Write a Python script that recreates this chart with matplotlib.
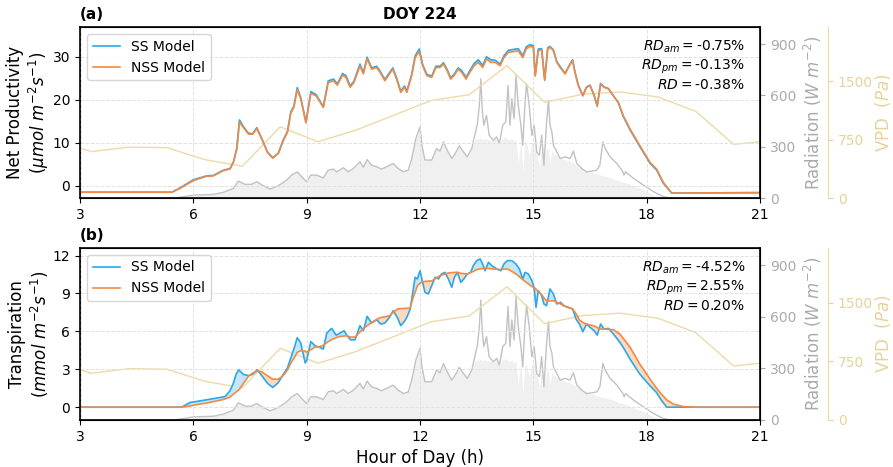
import numpy as np
import matplotlib
matplotlib.use('Agg')
import matplotlib.pyplot as plt

# ---------------- data ----------------
vpd_hours = [2.3, 3.3, 4.3, 5.3, 6.3, 7.3, 8.3, 9.3, 10.3, 11.3, 12.3, 13.3, 14.3,
             15.3, 16.3, 17.3, 18.3, 19.3, 20.3, 21.3]
vpd = [747, 597, 655, 648, 494, 409, 916, 724, 873, 1065, 1256, 1329, 1704,
       1231, 1335, 1365, 1300, 1116, 690, 740]

rad_hours = [3.0, 5.5, 6.0, 6.53, 6.79, 7.06, 7.19, 7.37, 7.54, 7.68,
             7.85, 8.03, 8.25, 8.47, 8.6, 8.75, 8.87, 9.0, 9.11, 9.26,
             9.44, 9.57, 9.71, 9.79, 9.97, 10.1, 10.24, 10.41, 10.5, 10.6,
             10.72, 10.85, 10.98, 11.12, 11.29, 11.42, 11.56, 11.69, 11.78, 11.89,
             12.0, 12.05, 12.13, 12.31, 12.44, 12.53, 12.62, 12.72, 12.84, 12.93,
             13.04, 13.15, 13.25, 13.37, 13.46, 13.52, 13.57, 13.61, 13.65, 13.69,
             13.76, 13.83, 13.94, 14.03, 14.1, 14.19, 14.27, 14.33, 14.38, 14.43,
             14.49, 14.54, 14.6, 14.67, 14.72, 14.78, 14.82, 14.89, 14.96, 15.02,
             15.09, 15.16, 15.22, 15.28, 15.35, 15.4, 15.44, 15.49, 15.53, 15.62,
             15.71, 15.84, 15.97, 16.06, 16.15, 16.28, 16.41, 16.54, 16.68, 16.76,
             16.84, 16.9, 17.03, 17.21, 17.36, 17.4, 17.44, 17.65, 17.91, 18.18,
             18.44, 18.62, 21.0]
rad = [0, 0, 17, 21, 33, 56, 99, 80, 80, 95,
       72, 52, 72, 105, 134, 153, 124, 95, 134, 134,
       118, 163, 169, 153, 177, 153, 173, 212, 180, 225,
       192, 183, 169, 183, 202, 173, 153, 163, 231, 348,
       416, 309, 222, 222, 290, 274, 328, 280, 231, 260,
       305, 270, 241, 290, 377, 435, 542, 698, 503, 426,
       484, 367, 338, 358, 319, 426, 445, 659, 426, 581,
       464, 717, 542, 426, 309, 561, 668, 542, 367, 426,
       270, 251, 367, 192, 445, 571, 426, 387, 309, 270,
       231, 241, 231, 274, 202, 173, 153, 157, 163, 192,
       328, 290, 241, 202, 157, 134, 153, 115, 76, 37,
       8, 0, 0]
rad_fill = [0, 0, 17, 21, 33, 56, 99, 80, 80, 95,
            72, 52, 72, 105, 134, 153, 124, 95, 134, 134,
            118, 163, 169, 153, 177, 153, 173, 212, 180, 225,
            192, 183, 169, 183, 202, 173, 153, 163, 231, 348,
            416, 309, 222, 222, 290, 274, 328, 280, 231, 260,
            305, 270, 241, 290, 340, 350, 345, 355, 340, 350,
            345, 340, 338, 350, 319, 350, 355, 345, 340, 350,
            330, 345, 200, 340, 150, 330, 320, 250, 330, 320,
            270, 180, 300, 192, 290, 280, 200, 280, 260, 250,
            231, 225, 215, 205, 190, 170, 153, 150, 140, 135,
            130, 128, 120, 105, 95, 93, 90, 70, 50, 17,
            0, 0, 0]

np_hours = [3.0, 5.43, 5.65, 6.0, 6.35, 6.53, 6.79, 6.97, 7.06, 7.15,
            7.22, 7.32, 7.46, 7.57, 7.68, 7.81, 7.96, 8.1, 8.25, 8.38,
            8.49, 8.58, 8.66, 8.75, 8.84, 8.98, 9.11, 9.25, 9.44, 9.57,
            9.71, 9.81, 9.95, 10.04, 10.15, 10.25, 10.41, 10.5, 10.6, 10.72,
            10.85, 10.94, 11.07, 11.16, 11.28, 11.38, 11.49, 11.59, 11.65, 11.78,
            11.87, 11.98, 12.07, 12.18, 12.31, 12.42, 12.53, 12.62, 12.72, 12.81,
            12.9, 13.01, 13.1, 13.22, 13.32, 13.43, 13.54, 13.66, 13.76, 13.87,
            13.99, 14.12, 14.22, 14.34, 14.47, 14.6, 14.72, 14.81, 14.91, 15.0,
            15.05, 15.13, 15.22, 15.3, 15.38, 15.44, 15.53, 15.62, 15.71, 15.84,
            15.95, 16.04, 16.1, 16.19, 16.31, 16.41, 16.5, 16.61, 16.69, 16.78,
            16.87, 16.99, 17.12, 17.25, 17.38, 17.56, 17.82, 18.09, 18.26, 18.44,
            18.66, 21.0]
np_nss = [-1.5, -1.5, -0.6, 1.2, 2.2, 2.3, 3.5, 3.9, 5.4, 8.5,
          14.8, 13.6, 12.0, 12.0, 13.3, 10.9, 7.8, 6.4, 7.5, 10.5,
          12.4, 16.9, 18.2, 22.3, 20.3, 14.6, 21.5, 20.9, 18.2, 24.0,
          24.4, 23.4, 25.7, 25.2, 22.9, 24.0, 27.9, 26.0, 29.5, 27.1,
          27.5, 26.4, 24.4, 25.6, 27.1, 24.8, 21.7, 22.9, 21.7, 25.6,
          29.8, 31.2, 27.9, 25.6, 25.2, 27.5, 27.5, 28.3, 26.7, 24.8,
          25.6, 27.1, 26.4, 24.8, 26.4, 27.9, 28.7, 27.5, 29.5, 28.7,
          28.7, 27.9, 29.8, 31.0, 31.2, 31.4, 29.8, 31.8, 32.4, 32.2,
          25.5, 31.4, 31.6, 24.5, 31.8, 32.2, 31.4, 28.7, 27.5, 26.0,
          27.9, 29.1, 26.4, 23.3, 20.9, 22.9, 23.3, 20.9, 18.6, 23.6,
          22.9, 22.5, 20.9, 19.4, 16.3, 13.2, 9.3, 5.4, 3.9, 0.8,
          -1.7, -1.6]
np_ss = [-1.5, -1.5, -0.5, 1.4, 2.3, 2.4, 3.6, 4.0, 5.5, 8.7,
         15.3, 13.8, 12.2, 12.1, 13.5, 11.0, 7.9, 6.5, 7.6, 10.7,
         12.6, 17.2, 18.5, 22.8, 20.6, 14.8, 21.9, 21.2, 18.4, 24.4,
         24.8, 23.7, 26.1, 25.6, 23.2, 24.3, 28.3, 26.3, 29.9, 27.4,
         27.8, 26.7, 24.7, 25.9, 27.4, 25.1, 22.0, 23.2, 22.0, 25.9,
         30.2, 31.8, 28.2, 25.9, 25.5, 27.8, 27.8, 28.6, 27.0, 25.1,
         25.9, 27.4, 26.8, 25.2, 26.8, 28.4, 29.3, 28.0, 30.0, 29.3,
         29.2, 28.3, 30.2, 31.5, 31.7, 31.9, 30.2, 32.3, 32.8, 32.6,
         25.7, 31.8, 31.9, 24.7, 32.1, 32.4, 31.6, 28.9, 27.7, 26.1,
         28.0, 29.3, 26.5, 23.4, 21.0, 23.0, 23.4, 21.0, 18.5, 23.8,
         23.0, 22.6, 20.9, 19.3, 16.1, 13.0, 9.1, 5.2, 3.7, 0.6,
         -1.7, -1.6]

tr_hours = [3.0, 5.69, 5.91, 6.18, 6.44, 6.71, 6.84, 6.97, 7.06, 7.13,
            7.2, 7.32, 7.46, 7.57, 7.69, 7.81, 7.96, 8.1, 8.25, 8.38,
            8.49, 8.6, 8.66, 8.75, 8.84, 8.96, 9.0, 9.11, 9.22, 9.35,
            9.44, 9.53, 9.66, 9.78, 9.88, 9.99, 10.06, 10.16, 10.28, 10.41,
            10.5, 10.6, 10.72, 10.85, 10.96, 11.07, 11.19, 11.29, 11.4, 11.49,
            11.58, 11.65, 11.74, 11.81, 11.87, 11.93, 12.0, 12.07, 12.13, 12.22,
            12.31, 12.4, 12.49, 12.57, 12.66, 12.75, 12.84, 12.91, 12.99, 13.08,
            13.16, 13.25, 13.34, 13.41, 13.5, 13.59, 13.66, 13.72, 13.81, 13.9,
            14.03, 14.14, 14.22, 14.31, 14.43, 14.54, 14.63, 14.72, 14.78, 14.87,
            14.96, 15.02, 15.07, 15.13, 15.22, 15.28, 15.35, 15.44, 15.53, 15.62,
            15.72, 15.81, 15.93, 16.04, 16.13, 16.22, 16.31, 16.41, 16.5, 16.61,
            16.69, 16.78, 16.87, 16.99, 17.12, 17.29, 17.38, 17.56, 17.82, 18.09,
            18.26, 18.4, 18.53, 18.71, 18.97, 19.3, 21.0]
tr_ss = [0, 0, 0.37, 0.5, 0.63, 0.77, 0.84, 1.3, 1.9, 2.6,
         2.96, 2.6, 2.5, 2.6, 2.96, 2.5, 1.9, 1.56, 1.95, 2.6,
         3.1, 4.07, 4.6, 5.5, 5.1, 3.5, 3.7, 5.2, 4.86, 4.73,
         4.6, 5.86, 6.24, 5.7, 5.86, 6.05, 5.7, 5.33, 5.33, 6.45,
         6.05, 7.19, 6.66, 6.92, 6.58, 6.66, 7.1, 7.64, 7.1, 6.45,
         6.76, 7.1, 7.77, 9.09, 10.28, 10.15, 10.8, 9.88, 9.09, 8.96,
         9.62, 10.28, 10.15, 10.54, 10.67, 10.15, 9.49, 10.28, 10.67, 9.88,
         10.15, 10.54, 10.67, 11.2, 11.6, 11.73, 11.33, 10.8, 11.47, 11.2,
         10.94, 10.8, 11.33, 11.6, 11.6, 11.33, 10.94, 10.15, 10.67, 10.54,
         10.02, 9.49, 7.9, 9.22, 8.83, 8.17, 8.03, 9.36, 8.96, 8.17,
         8.3, 8.03, 7.9, 7.77, 6.97, 6.58, 5.97, 6.58, 6.32, 6.05,
         5.7, 6.58, 6.18, 6.24, 5.79, 5.13, 4.73, 3.8, 2.61, 1.69,
         1.16, 0.5, 0.0, 0, 0, 0, 0]
tr_nss = [0, 0, 0.1, 0.25, 0.38, 0.55, 0.65, 0.8, 1.03, 1.2,
          1.35, 1.85, 2.45, 2.7, 2.85, 2.8, 2.5, 2.22, 2.22, 2.5,
          2.95, 3.6, 3.85, 4.35, 4.46, 4.45, 4.35, 4.55, 4.75, 4.8,
          4.9, 5.1, 5.35, 5.5, 5.6, 5.63, 5.65, 5.55, 5.55, 5.95,
          6.2, 6.45, 6.7, 6.95, 7.1, 7.15, 7.24, 7.5, 7.77, 7.8,
          7.82, 7.82, 7.85, 8.6, 9.09, 9.6, 9.8, 9.92, 9.95, 9.98,
          10.0, 10.15, 10.35, 10.45, 10.55, 10.62, 10.65, 10.67, 10.67, 10.6,
          10.57, 10.54, 10.65, 10.75, 10.89, 10.95, 10.97, 10.99, 10.98, 10.95,
          10.92, 10.89, 10.92, 10.94, 10.75, 10.55, 10.32, 10.1, 9.95, 9.75,
          9.55, 9.47, 9.35, 9.15, 8.9, 8.65, 8.43, 8.4, 8.43, 8.3,
          8.17, 8.02, 7.88, 7.78, 7.4, 6.9, 6.7, 6.58, 6.5, 6.43,
          6.3, 6.18, 6.18, 6.16, 6.13, 5.79, 5.45, 4.75, 3.4, 2.22,
          1.5, 1.0, 0.58, 0.24, 0.05, 0, 0]

x_ticks = [3, 6, 9, 12, 15, 18, 21]
rd_a = ['-0.75%', '-0.13%', '-0.38%']
rd_b = ['-4.52%', '2.55%', '0.20%']

# ---------------- style ----------------
C_SS = '#2aa8e8'
C_NSS = '#f28a46'
C_SS_FILL = '#c4e6f8'
C_NSS_FILL = '#fcd9bf'
C_RAD = '#c2c2c2'
C_RAD_TXT = '#ababab'
C_RAD_FILL = '#f0f0f0'
C_VPD = '#eedaa9'
C_VPD_TXT = '#e7d399'

plt.rcParams['font.family'] = ['DejaVu Sans']

fig = plt.figure(figsize=(8.93, 4.67), dpi=100)
ax1 = fig.add_axes([0.0896, 0.576, 0.7615, 0.366])
ax2 = fig.add_axes([0.0896, 0.101, 0.7615, 0.368])


def panel(ax, h, ss, nss, ylim, yticks, ylabel, rd, tag):
    h = np.asarray(h)
    ss = np.asarray(ss)
    nss = np.asarray(nss)
    rax = ax.twinx()
    vax = ax.twinx()
    vax.spines['right'].set_position(('axes', 1.1))
    for s in ['left', 'top', 'bottom']:
        vax.spines[s].set_visible(False)

    rax.fill_between(rad_hours, 0, rad_fill, color=C_RAD_FILL, lw=0)
    rax.plot(rad_hours, rad, color=C_RAD, lw=1.0)
    rax.set_ylim(0, 1000)
    rax.set_yticks([0, 300, 600, 900])
    rax.tick_params(axis='y', colors=C_RAD_TXT, labelsize=10)
    rax.set_ylabel(r'Radiation ($W\ m^{-2}$)', color=C_RAD_TXT, fontsize=12)

    vax.plot(vpd_hours, vpd, color=C_VPD, lw=1.0)
    vax.set_ylim(0, 2200)
    vax.set_yticks([0, 750, 1500])
    vax.tick_params(axis='y', colors=C_VPD_TXT, labelsize=10)
    vax.spines['right'].set_color(C_VPD)
    vax.set_ylabel(r'VPD  ($Pa$)', color=C_VPD_TXT, fontsize=12, labelpad=0)

    ax.set_zorder(rax.get_zorder() + 5)
    ax.patch.set_visible(False)

    ax.fill_between(h, ss, nss, where=ss >= nss, interpolate=True,
                    color=C_SS_FILL, lw=0)
    ax.fill_between(h, ss, nss, where=ss < nss, interpolate=True,
                    color=C_NSS_FILL, lw=0)
    ax.plot(h, ss, color=C_SS, lw=1.2, label='SS Model')
    ax.plot(h, nss, color=C_NSS, lw=1.2, label='NSS Model')

    ax.set_xlim(3, 21)
    ax.set_xticks(x_ticks)
    ax.set_ylim(*ylim)
    ax.set_yticks(yticks)
    ax.tick_params(labelsize=10)
    ax.grid(True, ls='--', lw=0.7, color='#e2e2e2')
    ax.set_ylabel(ylabel, fontsize=12)
    ax.yaxis.set_label_coords(-0.042, 0.5)
    ax.legend(loc='upper left', fontsize=10)
    txt = (r'$RD_{am}=$' + rd[0] + '\n' + r'$RD_{pm}=$' + rd[1] + '\n' +
           r'$RD=$' + rd[2])
    ax.text(0.978, 0.93, txt, transform=ax.transAxes, ha='right', va='top',
            fontsize=10)
    ax.text(0.0, 1.03, tag, transform=ax.transAxes, ha='left', va='bottom',
            fontsize=11, fontweight='bold')
    for s in ax.spines.values():
        s.set_linewidth(1.2)


panel(ax1, np_hours, np_ss, np_nss, (-2.85, 36.9), [0, 10, 20, 30],
      'Net Productivity\n' + r'($\mu mol\ m^{-2}s^{-1}$)', rd_a, '(a)')
panel(ax2, tr_hours, tr_ss, tr_nss, (-1.0, 12.6), [0, 3, 6, 9, 12],
      'Transpiration\n' + r'($mmol\ m^{-2}s^{-1}$)', rd_b, '(b)')
ax1.set_title('DOY 224', fontsize=11, fontweight='bold')
ax2.set_xlabel('Hour of Day (h)', fontsize=12)

fig.savefig('out.png', dpi=100)
